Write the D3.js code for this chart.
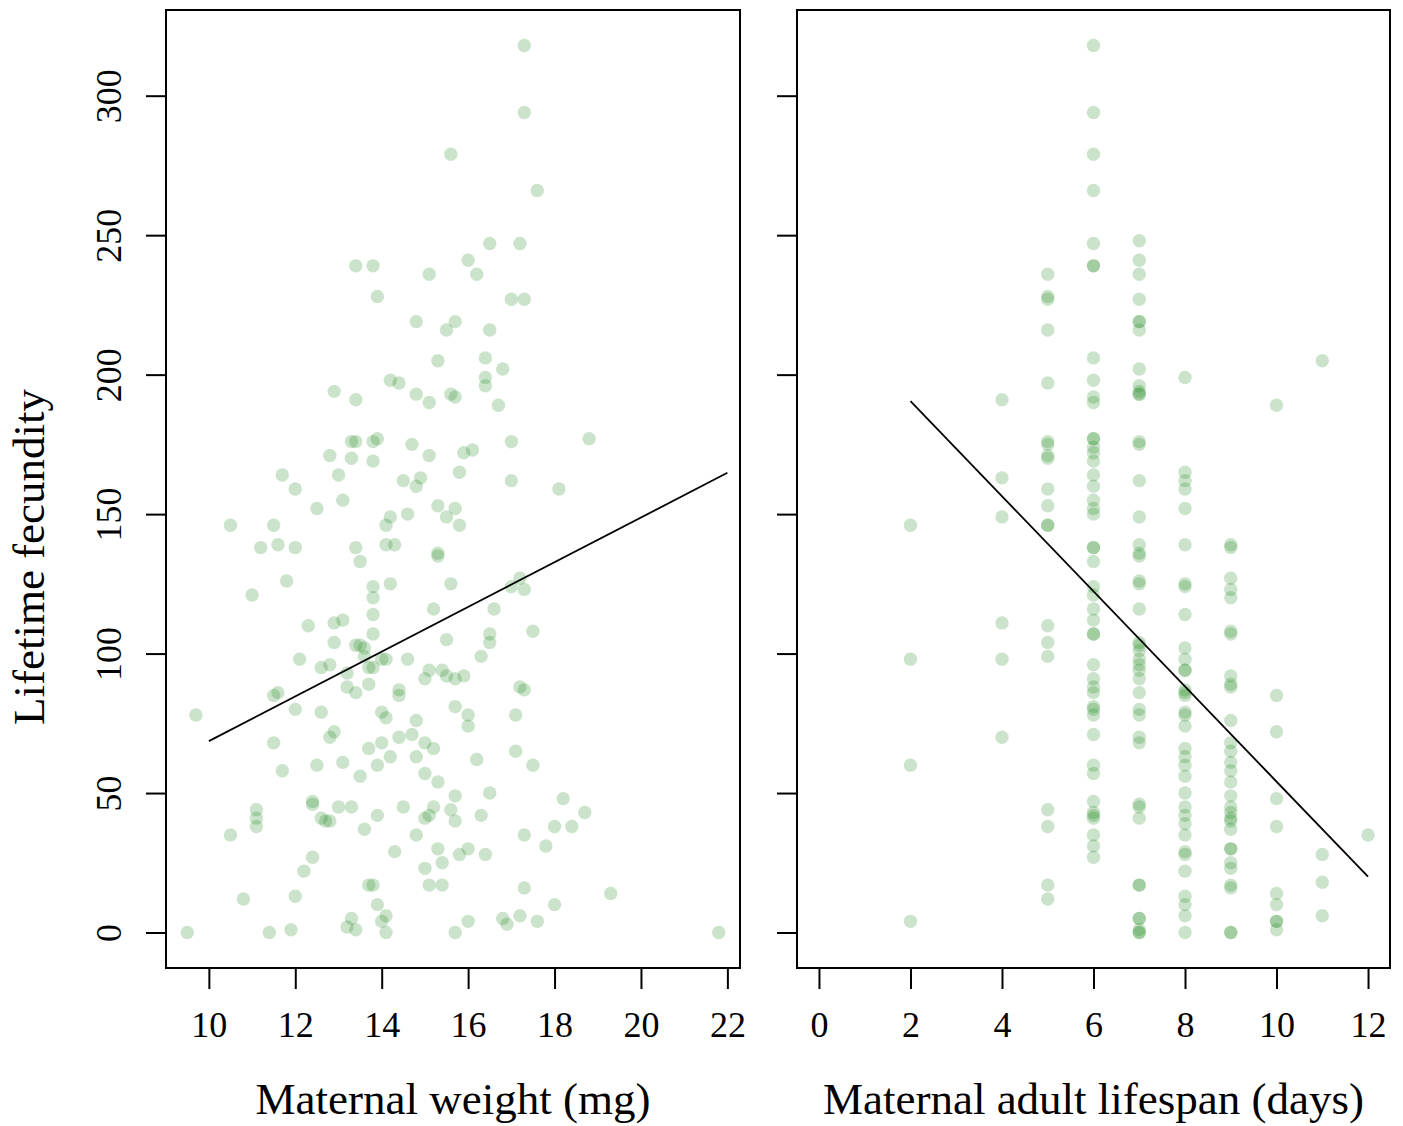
<!DOCTYPE html>
<html>
<head>
<meta charset="utf-8">
<script src="https://cdn.jsdelivr.net/npm/d3@7"></script>
<style>
  body { margin: 0; background: #fff; }
  text { font-family: "Liberation Serif", "Times New Roman", serif; }
</style>
</head>
<body>
<svg id="chart" width="1403" height="1126"></svg>
<script>
// maternal weight (mg) and lifetime fecundity, one entry per female
const weightMg = [
  17.3, 17.3, 15.6, 17.6, 16.5, 17.2, 16.0, 13.4, 13.8, 15.1, 16.2, 13.9, 17.0, 17.3, 14.8, 15.7,
  15.5, 16.5, 15.3, 16.4, 16.8, 14.2, 14.4, 16.4, 16.4, 12.9, 13.4, 14.8, 15.1, 15.6, 15.7, 16.7,
  13.3, 13.4, 13.8, 13.9, 14.7, 17.0, 18.8, 12.8, 13.3, 13.8, 15.1, 15.9, 16.1, 11.7, 13.0, 12.0,
  14.5, 14.9, 14.8, 15.8, 17.0, 18.1, 12.5, 13.1, 15.3, 15.5, 15.7, 10.5, 11.5, 14.2, 14.1, 14.6,
  15.8, 11.2, 11.6, 12.0, 13.4, 13.5, 14.1, 14.3, 15.3, 15.3, 11.8, 11.0, 13.8, 13.8, 14.2, 15.6,
  17.2, 17.0, 17.3, 13.8, 15.2, 16.6, 12.3, 12.9, 13.1, 13.8, 16.5, 17.5, 12.9, 13.4, 13.5, 13.6,
  15.5, 16.5, 16.3, 12.1, 12.6, 12.8, 13.2, 13.6, 13.7, 13.8, 14.0, 14.1, 14.6, 15.1, 15.0, 15.4,
  15.5, 15.7, 15.9, 11.5, 11.6, 13.2, 13.4, 13.7, 14.4, 14.4, 17.2, 17.3, 9.7, 12.0, 12.6, 14.0,
  14.1, 14.8, 15.7, 16.0, 16.0, 17.1, 12.9, 12.8, 11.5, 13.7, 14.0, 14.4, 14.7, 15.0, 15.2, 17.1,
  16.2, 17.5, 11.7, 12.5, 13.1, 13.5, 13.9, 14.2, 14.8, 15.0, 15.3, 15.7, 16.5, 18.2, 18.7, 12.4,
  12.4, 11.1, 11.1, 11.1, 13.0, 13.3, 12.6, 12.7, 12.8, 13.9, 14.5, 15.0, 15.1, 15.2, 15.6, 15.7,
  16.3, 18.0, 18.4, 17.3, 10.5, 13.6, 14.8, 17.8, 14.3, 15.3, 15.4, 15.0, 15.8, 16.0, 16.4, 12.4,
  12.2, 13.7, 13.8, 15.1, 15.4, 17.3, 19.3, 10.8, 12.0, 13.9, 14.1, 14.0, 13.3, 13.2, 13.4, 16.0,
  16.8, 16.9, 17.2, 17.6, 18.0, 9.5, 11.4, 11.9, 14.1, 15.7, 21.8
];
const weightFecundity = [
  318, 294, 279, 266, 247, 247, 241, 239, 239, 236, 236, 228, 227, 227, 219, 219,
  216, 216, 205, 206, 202, 198, 197, 199, 196, 194, 191, 193, 190, 193, 192, 189,
  176, 176, 176, 177, 175, 176, 177, 171, 170, 169, 171, 172, 173, 164, 164, 159,
  162, 163, 160, 165, 162, 159, 152, 155, 153, 149, 152, 146, 146, 149, 146, 150,
  146, 138, 139, 138, 138, 133, 139, 139, 135, 136, 126, 121, 124, 120, 125, 125,
  127, 124, 123, 114, 116, 116, 110, 111, 112, 107, 107, 108, 104, 103, 103, 102,
  105, 104, 99, 98, 95, 96, 93, 99, 95, 95, 98, 98, 98, 94, 91, 94,
  92, 91, 92, 85, 86, 88, 86, 89, 87, 85, 88, 87, 78, 80, 79, 79,
  77, 76, 81, 78, 74, 78, 72, 70, 68, 66, 68, 70, 71, 68, 66, 65,
  62, 60, 58, 60, 61, 56, 60, 63, 63, 57, 54, 49, 50, 48, 43, 47,
  46, 44, 41, 38, 45, 45, 41, 40, 40, 42, 45, 41, 42, 45, 44, 40,
  42, 38, 38, 35, 35, 37, 35, 31, 29, 30, 25, 23, 28, 30, 28, 27,
  22, 17, 17, 17, 17, 16, 14, 12, 13, 10, 6, 4, 5, 2, 1, 4,
  5, 3, 6, 4, 10, 0, 0, 1, 0, 0, 0
];

// maternal adult lifespan (days) and the fecundities recorded at each lifespan
const lifespanDays = [2, 4, 5, 6, 7, 8, 9, 10, 11, 12];
const fecundityByLifespan = [
  [146, 98, 60, 4],
  [191, 163, 149, 111, 98, 70],
  [236, 228, 227, 216, 197, 176, 175, 171, 170, 159, 153, 146, 146, 110, 104, 99, 44, 38, 17, 12],
  [318, 294, 279, 266, 247, 239, 239, 206, 198, 192, 190, 177, 177, 174, 172, 169, 164, 160, 155, 152,
   150, 138, 138, 133, 124, 121, 116, 112, 107, 107, 96, 91, 88, 86, 81, 80, 78, 71, 60, 57,
   47, 43, 42, 41, 35, 31, 27],
  [248, 241, 236, 227, 219, 219, 216, 202, 196, 194, 193, 193, 176, 175, 162, 149, 139, 136, 135, 126,
   125, 116, 104, 103, 101, 98, 96, 94, 91, 86, 80, 78, 70, 68, 46, 45, 41, 17, 17, 5,
   5, 1, 0, 0],
  [199, 165, 162, 159, 152, 139, 125, 124, 114, 102, 98, 94, 94, 87, 86, 85, 79, 78, 74, 66,
   63, 60, 56, 50, 45, 42, 39, 35, 29, 28, 22, 13, 10, 6, 0],
  [139, 138, 127, 123, 120, 108, 107, 92, 89, 88, 76, 68, 65, 61, 58, 54, 49, 45, 43, 41,
   40, 37, 30, 30, 25, 23, 17, 16, 0, 0],
  [189, 85, 72, 48, 38, 14, 10, 4, 4, 1],
  [205, 28, 18, 6],
  [35]
];

// fitted regression lines (end points as drawn)
const weightFitX = [10, 22];
const weightFitY = [68.6, 164.8];
const lifespanFitX = [2, 12];
const lifespanFitY = [190.5, 20];

// axis ticks
const weightTicks = [10, 12, 14, 16, 18, 20, 22];
const lifespanTicks = [0, 2, 4, 6, 8, 10, 12];
const fecundityTicks = [0, 50, 100, 150, 200, 250, 300];
const lifespanLimits = [0, 12];

const svg = d3.select('#chart');
const plotTop = 10, plotBottom = 968;
const ptColor = 'rgb(34,139,34)';

// R style axis range: data range padded by 4% each side
const pad = ext => {
  const d = (ext[1] - ext[0]) * 0.04;
  return [ext[0] - d, ext[1] + d];
};

const yScale = d3.scaleLinear()
  .domain(pad(d3.extent(weightFecundity)))
  .range([plotBottom, plotTop]);

const drawPanel = (left, right, xScale, xTicks, points, fitX, fitY, showYLabels, title) => {
  const g = svg.append('g');

  // points
  g.append('g').selectAll('circle')
    .data(points)
    .enter().append('circle')
    .attr('cx', d => xScale(d[0]))
    .attr('cy', d => yScale(d[1]))
    .attr('r', 6.7)
    .attr('fill', ptColor)
    .attr('fill-opacity', 0.24);

  // regression line
  g.append('line')
    .attr('x1', xScale(fitX[0])).attr('y1', yScale(fitY[0]))
    .attr('x2', xScale(fitX[1])).attr('y2', yScale(fitY[1]))
    .attr('stroke', '#000')
    .attr('stroke-width', 1.8);

  // frame
  g.append('rect')
    .attr('x', left).attr('y', plotTop)
    .attr('width', right - left).attr('height', plotBottom - plotTop)
    .attr('fill', 'none')
    .attr('stroke', '#000')
    .attr('stroke-width', 2);

  // x axis
  const xa = g.append('g')
    .attr('transform', `translate(0,${plotBottom})`)
    .call(d3.axisBottom(xScale).tickValues(xTicks).tickSize(21).tickPadding(22).tickSizeOuter(0));
  xa.select('.domain').remove();
  xa.selectAll('line').attr('stroke-width', 2);
  xa.selectAll('text').attr('font-size', '36px').attr('font-family', '"Liberation Serif", serif').attr('fill', '#000');

  // y axis
  const ya = g.append('g')
    .attr('transform', `translate(${left},0)`)
    .call(d3.axisLeft(yScale).tickValues(fecundityTicks).tickSize(20).tickSizeOuter(0));
  ya.select('.domain').remove();
  ya.selectAll('line').attr('stroke-width', 2);
  if (showYLabels) {
    ya.selectAll('text')
      .attr('x', null).attr('dy', null)
      .attr('transform', 'translate(-45,0) rotate(-90)')
      .attr('text-anchor', 'middle')
      .attr('font-size', '36px')
      .attr('font-family', '"Liberation Serif", serif')
      .attr('fill', '#000');
  } else {
    ya.selectAll('text').remove();
  }

  // x title
  svg.append('text')
    .attr('x', (left + right) / 2)
    .attr('y', 1114)
    .attr('text-anchor', 'middle')
    .attr('font-size', '45px')
    .text(title);
};

const weightPoints = weightMg.map((w, i) => [w, weightFecundity[i]]);
const weightScale = d3.scaleLinear().domain(pad(d3.extent(weightMg))).range([166, 740]);
drawPanel(166, 740, weightScale, weightTicks, weightPoints, weightFitX, weightFitY, true, 'Maternal weight (mg)');

const lifespanPoints = [];
lifespanDays.forEach((day, i) => {
  fecundityByLifespan[i].forEach(f => lifespanPoints.push([day, f]));
});
const lifespanScale = d3.scaleLinear().domain(pad(lifespanLimits)).range([797, 1390]);
drawPanel(797, 1390, lifespanScale, lifespanTicks, lifespanPoints, lifespanFitX, lifespanFitY, false, 'Maternal adult lifespan (days)');

// shared y title
svg.append('text')
  .attr('transform', 'translate(44,557) rotate(-90)')
  .attr('text-anchor', 'middle')
  .attr('font-size', '45px')
  .text('Lifetime fecundity');
</script>
</body>
</html>
